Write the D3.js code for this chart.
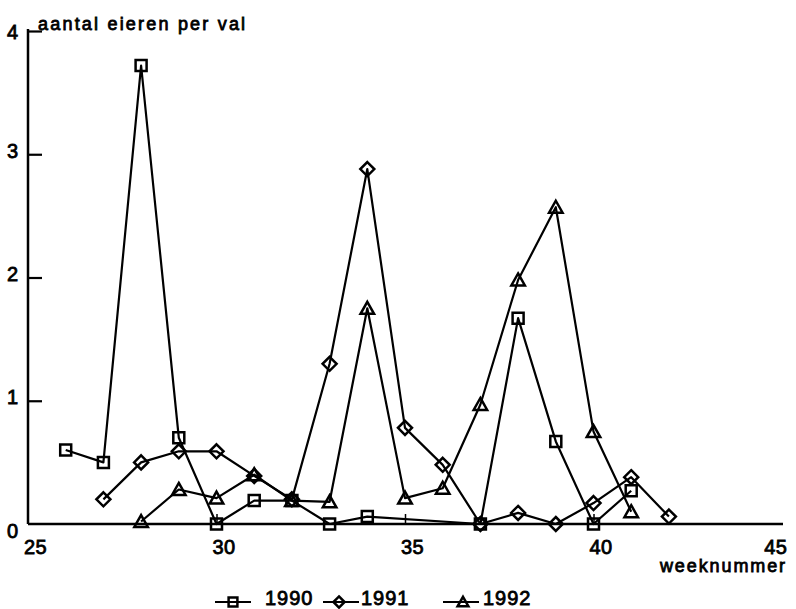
<!DOCTYPE html>
<html>
<head>
<meta charset="utf-8">
<script src="https://cdn.jsdelivr.net/npm/d3@7"></script>
<style>
  html, body { margin: 0; padding: 0; background: #fff; }
  svg { display: block; }
  text { font-family: "Liberation Sans", Arial, sans-serif; fill: #000; stroke: #000; stroke-width: 0.8px; }
</style>
</head>
<body>
<svg id="chart" width="796" height="609"></svg>
<script>
// Data (eggs per trap per week)
const weeks1990 = [26, 27, 28, 29, 30, 31, 32, 33, 34, 37, 38, 39, 40, 41];
const eggs1990 = [0.6, 0.5, 3.72, 0.7, 0, 0.19, 0.19, 0, 0.06, 0, 1.67, 0.67, 0, 0.27];

const weeks1991 = [27, 28, 29, 30, 31, 32, 33, 34, 35, 36, 37, 38, 39, 40, 41, 42];
const eggs1991 = [0.2, 0.5, 0.59, 0.59, 0.39, 0.2, 1.3, 2.88, 0.78, 0.48, 0, 0.09, 0, 0.17, 0.38, 0.06];

const weeks1992 = [28, 29, 30, 31, 32, 33, 34, 35, 36, 37, 38, 39, 40, 41];
const eggs1992 = [0.02, 0.28, 0.21, 0.4, 0.19, 0.18, 1.75, 0.21, 0.29, 0.97, 1.98, 2.57, 0.75, 0.1];

const xTicks = [25, 30, 35, 40, 45];
const yTicks = [0, 1, 2, 3, 4];
const seriesNames = ['1990', '1991', '1992'];

// Marker paths, hollow like the original plot symbols
const MARKERS = {
  square: s => `M${-s / 2},${-s / 2}h${s}v${s}h${-s}Z`,
  diamond: s => `M0,${-s / 2}L${s / 2},0L0,${s / 2}L${-s / 2},0Z`,
  triangle: s => `M0,${-s * 0.5}L${s * 0.52},${s * 0.42}L${-s * 0.52},${s * 0.42}Z`,
};

const series = [
  { name: seriesNames[0], weeks: weeks1990, values: eggs1990, marker: 'square', size: 11 },
  { name: seriesNames[1], weeks: weeks1991, values: eggs1991, marker: 'diamond', size: 14 },
  { name: seriesNames[2], weeks: weeks1992, values: eggs1992, marker: 'triangle', size: 13 },
];

const svg = d3.select('#chart');

const x = d3.scaleLinear().domain([25, 45]).range([28, 782]);
const y = d3.scaleLinear().domain([0, 4]).range([524, 31]);

// Y axis — ticks point inward
const yAxis = svg.append('g')
  .attr('transform', `translate(${x(25)},0)`)
  .call(d3.axisLeft(y).tickValues(yTicks).tickSize(-14).tickSizeOuter(0).tickPadding(10).tickFormat(d3.format('d')));
yAxis.select('.domain').attr('stroke', '#000').attr('stroke-width', 2.5).attr('d', `M0,${y(0)}V${y(4) - 2}`);
yAxis.selectAll('.tick line').attr('stroke', '#000').attr('stroke-width', 2.2);
yAxis.selectAll('.tick text')
  .attr('font-size', 20)
  .attr('dy', d => d === 0 ? 13 : d === 4 ? 7 : 3)
  .attr('x', -10);
yAxis.selectAll('.tick').filter(d => d === 0).select('line').remove();
yAxis.attr('font-family', null).attr('font-size', null);

// X axis
const xAxis = svg.append('g')
  .attr('transform', `translate(0,${y(0)})`)
  .call(d3.axisBottom(x).tickValues(xTicks).tickSize(-10).tickSizeOuter(0).tickPadding(16));
xAxis.select('.domain').attr('stroke', '#000').attr('stroke-width', 2.5).attr('d', `M${x(25)},0H${x(45) + 1}`);
xAxis.selectAll('.tick line').attr('stroke', '#000').attr('stroke-width', 1.5)
  .filter(d => d === 25 || d === 45).remove();
xAxis.selectAll('.tick text')
  .attr('font-size', 20)
  .attr('letter-spacing', 0.5)
  .attr('dx', d => d === 45 ? 5 : 7)
  .attr('text-anchor', d => d === 45 ? 'end' : 'middle');
xAxis.attr('font-family', null).attr('font-size', null);

// Axis titles
svg.append('text')
  .attr('x', 38).attr('y', 30)
  .attr('font-size', 18).attr('letter-spacing', 2.2)
  .text('aantal eieren per val');

svg.append('text')
  .attr('x', 787).attr('y', 572)
  .attr('text-anchor', 'end')
  .attr('font-size', 18).attr('letter-spacing', 1.9)
  .text('weeknummer');

// Lines + markers
const line = d3.line().x(d => x(d[0])).y(d => y(d[1]));

series.forEach(s => {
  const pts = s.weeks.map((w, i) => [w, s.values[i]]);
  svg.append('path')
    .datum(pts)
    .attr('d', line)
    .attr('fill', 'none')
    .attr('stroke', '#000')
    .attr('stroke-width', 2.2)
    .attr('stroke-linejoin', 'round');

  svg.append('g')
    .selectAll('path')
    .data(pts)
    .join('path')
    .attr('transform', d => `translate(${x(d[0])},${y(d[1])})`)
    .attr('d', MARKERS[s.marker](s.size))
    .attr('fill', 'none')
    .attr('stroke', '#000')
    .attr('stroke-width', 2.5);
});

// Legend along the bottom
const legendX = [215, 323, 443];
const legendMarkX = [18, 16, 20];
const legendTextX = [50, 38, 40];
const legendY = 602;
const legend = svg.append('g')
  .selectAll('g')
  .data(series)
  .join('g')
  .attr('transform', (d, i) => `translate(${legendX[i]},${legendY})`);

legend.append('line')
  .attr('x1', 0).attr('x2', 36)
  .attr('stroke', '#000').attr('stroke-width', 2.2);
legend.append('path')
  .attr('transform', (d, i) => `translate(${legendMarkX[i]},0)`)
  .attr('d', d => MARKERS[d.marker](d.size * 0.8))
  .attr('fill', 'none')
  .attr('stroke', '#000')
  .attr('stroke-width', 2.5);
legend.append('text')
  .attr('x', (d, i) => legendTextX[i])
  .attr('y', 3)
  .attr('font-size', 20)
  .attr('letter-spacing', 1)
  .text(d => d.name);
</script>
</body>
</html>
